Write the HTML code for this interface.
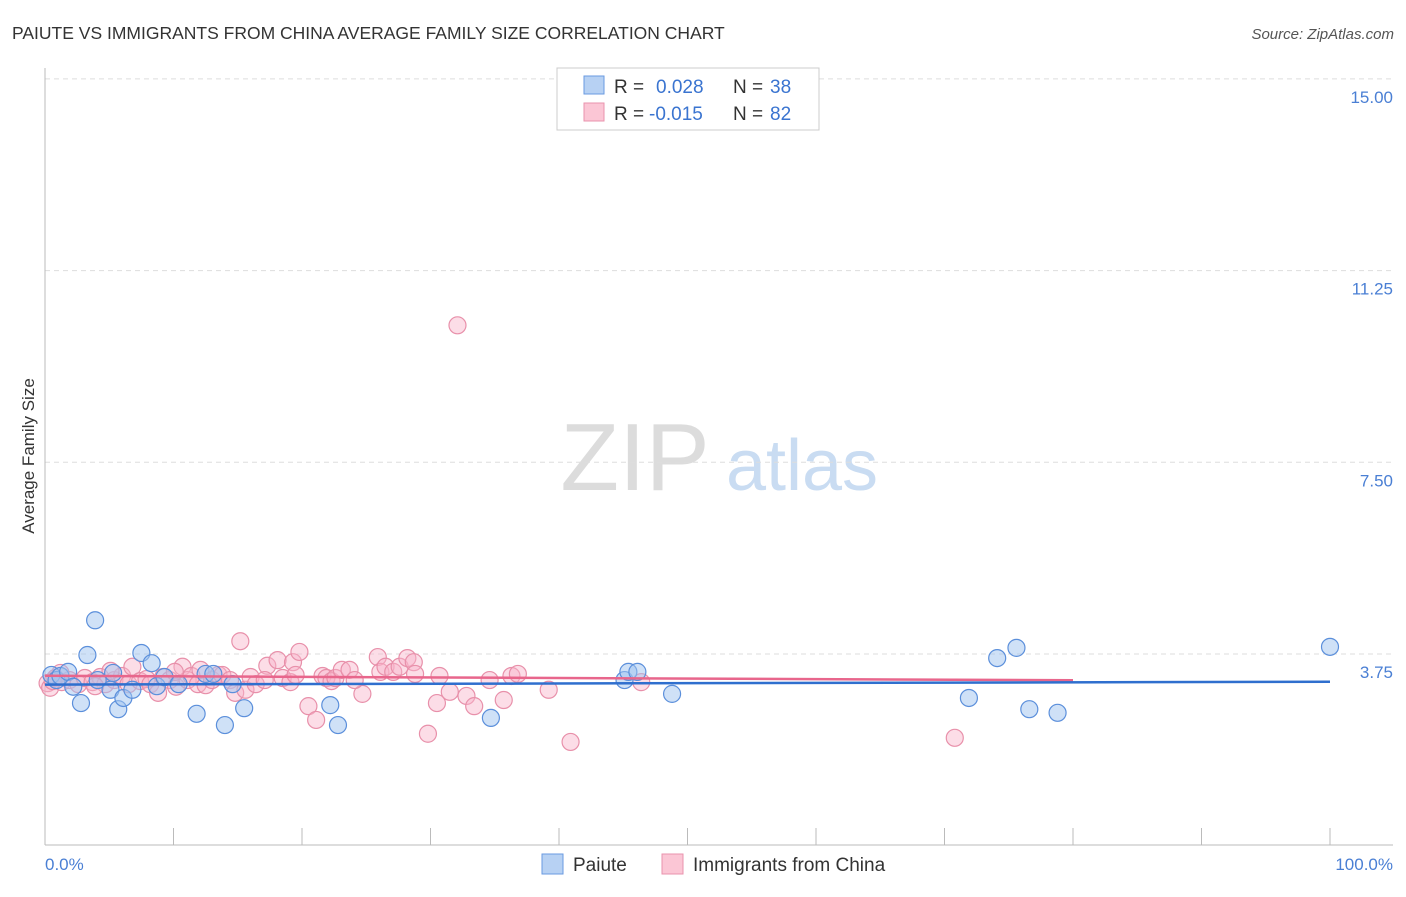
<!DOCTYPE html>
<html><head><meta charset="utf-8"><style>
body{margin:0;background:#fff;font-family:"Liberation Sans",sans-serif}
svg text{font-family:"Liberation Sans",sans-serif}
</style></head><body>
<svg width="1406" height="892" xmlns="http://www.w3.org/2000/svg">
<text x="12" y="39" font-size="17.5" fill="#333">PAIUTE VS IMMIGRANTS FROM CHINA AVERAGE FAMILY SIZE CORRELATION CHART</text>
<text x="1394" y="39" font-size="15" fill="#555" text-anchor="end" font-style="italic">Source: ZipAtlas.com</text>
<g>
<text x="635" y="490" font-size="96" fill="#dcdcdc" font-family="Liberation Serif,serif" text-anchor="middle">ZIP</text>
<text x="802" y="490" font-size="72" fill="#c9dcf2" text-anchor="middle">atlas</text>
</g>
<g id="grid"></g>
<g id="axes"></g>
<g id="pts"></g>
<g id="trend"></g>
<text transform="translate(34,456) rotate(-90)" font-size="17" fill="#333" text-anchor="middle">Average Family Size</text>
<text x="45" y="870" font-size="17" fill="#4a7fd4">0.0%</text>
<text x="1393" y="870" font-size="17" fill="#4a7fd4" text-anchor="end">100.0%</text>
<g>
<rect x="557" y="68" width="262" height="62" fill="#fff" stroke="#ccc"/>
<rect x="584" y="76" width="20" height="18" fill="#b7d1f3" stroke="#6a9ae0"/>
<rect x="584" y="103" width="20" height="18" fill="#fbc6d5" stroke="#ea93ad"/>
<text x="614" y="93" font-size="19" fill="#333">R =</text><text x="656" y="93" font-size="19" fill="#3a74d0">0.028</text>
<text x="733" y="93" font-size="19" fill="#333">N =</text><text x="770" y="93" font-size="19" fill="#3a74d0">38</text>
<text x="614" y="120" font-size="19" fill="#333">R =</text><text x="649" y="120" font-size="19" fill="#3a74d0">-0.015</text>
<text x="733" y="120" font-size="19" fill="#333">N =</text><text x="770" y="120" font-size="19" fill="#3a74d0">82</text>
</g>
<g>
<rect x="542" y="854" width="21" height="20" fill="#b7d1f3" stroke="#6a9ae0"/>
<text x="573" y="871" font-size="19" fill="#333">Paiute</text>
<rect x="662" y="854" width="21" height="20" fill="#fbc6d5" stroke="#ea93ad"/>
<text x="693" y="871" font-size="19" fill="#333">Immigrants from China</text>
</g>
</svg>
<script>
const yTicks=[3.75,7.5,11.25,15];
const yTickLabels=["3.75","7.50","11.25","15.00"];
const blueX=[0.5,0.9,1.2,1.8,2.2,2.8,3.3,3.9,4.1,5.1,5.3,5.7,6.1,6.8,7.5,8.3,8.7,9.3,10.4,11.8,12.5,13.1,14.0,14.6,15.5,22.2,22.8,34.7,45.1,45.4,46.1,48.8,71.9,74.1,75.6,76.6,78.8,100];
const blueY=[3.34,3.24,3.32,3.40,3.11,2.79,3.73,4.41,3.24,3.05,3.38,2.67,2.89,3.05,3.77,3.57,3.12,3.30,3.16,2.58,3.36,3.36,2.36,3.16,2.69,2.75,2.36,2.50,3.24,3.40,3.40,2.97,2.89,3.67,3.87,2.67,2.60,3.89];
const pinkX=[0.2,0.4,0.8,1.3,1.9,2.6,3.1,3.7,4.3,4.7,5.4,6.0,6.5,6.8,7.4,7.9,8.2,8.8,9.2,9.7,10.2,10.7,11.1,11.4,11.9,12.5,13.0,13.5,13.8,14.4,14.8,15.2,15.6,16.0,16.4,17.3,18.1,18.5,19.1,19.3,19.5,19.8,20.5,21.1,21.6,21.9,22.3,22.6,23.1,23.7,24.7,25.9,26.1,26.5,27.1,27.6,28.2,28.7,28.8,29.8,30.5,30.7,31.5,32.1,32.8,33.4,34.6,35.7,36.3,36.8,39.2,40.9,46.4,70.8,1.2,5.1,10.1,12.1,17.1,24.1,3.9,0.6];
const pinkY=[3.18,3.09,3.28,3.20,3.24,3.16,3.28,3.20,3.30,3.16,3.24,3.32,3.16,3.50,3.22,3.26,3.16,2.99,3.30,3.24,3.11,3.50,3.24,3.32,3.16,3.14,3.24,3.34,3.34,3.24,2.99,4.00,3.05,3.30,3.16,3.52,3.63,3.28,3.20,3.59,3.34,3.79,2.73,2.46,3.32,3.28,3.22,3.28,3.44,3.44,2.97,3.69,3.40,3.50,3.40,3.50,3.67,3.59,3.36,2.19,2.79,3.32,3.01,10.18,2.93,2.73,3.24,2.85,3.32,3.36,3.05,2.03,3.20,2.11,3.38,3.42,3.40,3.44,3.24,3.24,3.12,3.22];
const NS='http://www.w3.org/2000/svg';
const X=p=>45+p*12.85, Y=v=>845.7-v*51.12;
function mk(t,a,parent){const e=document.createElementNS(NS,t);for(const k in a)e.setAttribute(k,a[k]);document.getElementById(parent).appendChild(e);return e;}
yTicks.forEach((v,i)=>{
 const l=mk('line',{x1:45,x2:1393,y1:Y(v),y2:Y(v),stroke:'#ddd','stroke-dasharray':'5,4'},'grid');
 
 
 const t=mk('text',{x:1393,y:Y(v)+24,'font-size':17,fill:'#4a7fd4','text-anchor':'end'},'grid');
 t.textContent=yTickLabels[i];
 
 
});
mk('line',{x1:45,x2:45,y1:68,y2:845,stroke:'#bbb'},'axes');
mk('line',{x1:45,x2:1393,y1:845,y2:845,stroke:'#bbb'},'axes');
for(let k=1;k<=10;k++){const t=mk('line',{x1:X(k*10),x2:X(k*10),y1:828,y2:845,stroke:'#bbb'},'axes');
 
 }
function draw(xs,ys,fill,stroke,name){xs.forEach((x,i)=>{const c=mk('circle',{cx:X(x),cy:Y(ys[i]),r:8.5,fill:fill,stroke:stroke,'stroke-width':1.2},'pts');
 
 });}
draw(pinkX,pinkY,'rgba(248,180,202,0.45)','#e890aa','china-point');
draw(blueX,blueY,'rgba(160,196,240,0.5)','#5b8fdb','paiute-point');
function reg(xs,ys){const n=xs.length;let mx=0,my=0;xs.forEach((x,i)=>{mx+=x;my+=ys[i]});mx/=n;my/=n;let sxy=0,sxx=0;xs.forEach((x,i)=>{sxy+=(x-mx)*(ys[i]-my);sxx+=(x-mx)**2});const b=sxy/sxx;return [my-b*mx,b];}
function trend(xs,ys,col,x1,name){const [a,b]=reg(xs,ys);const l=mk('line',{x1:X(0),x2:X(x1),y1:Y(a),y2:Y(a+b*x1),stroke:col,'stroke-width':2.5},'trend');
 
 }
trend(pinkX,pinkY,'#e8668c',80,'china-trend-line');
trend(blueX,blueY,'#2f6fce',100,'paiute-trend-line');
</script>
</body></html>
